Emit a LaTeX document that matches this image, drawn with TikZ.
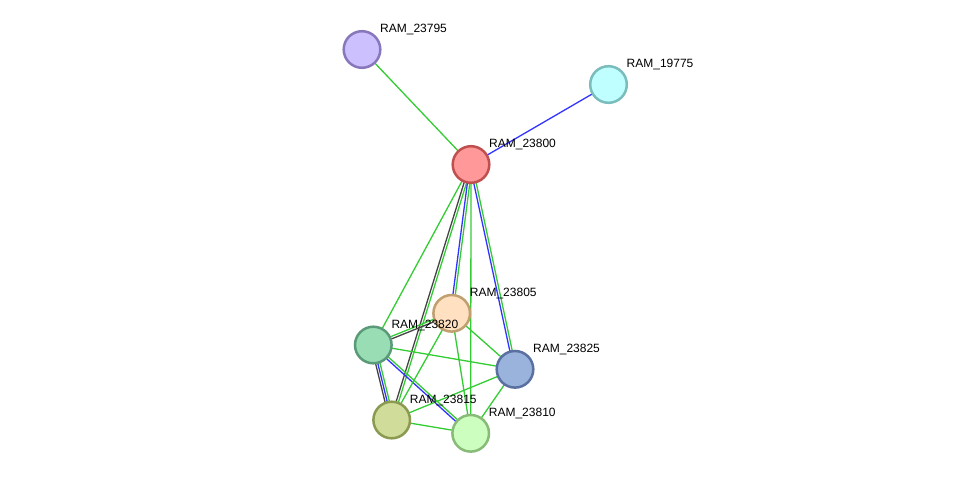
\documentclass[tikz,border=0pt]{standalone}
\usepackage{fontspec}
\setmainfont{Liberation Sans}
\usetikzlibrary{calc,backgrounds}
\definecolor{eg}{HTML}{33CC33}
\definecolor{eb}{HTML}{3333FF}
\definecolor{ek}{HTML}{444444}
\tikzset{
  prot/.style={circle, minimum size=36.6pt, inner sep=0pt, line width=2.5pt},
  lab/.style={anchor=west, font=\fontsize{12}{14}\selectfont, inner sep=0pt},
  edge/.style={line width=1.3pt},
}
\newcommand{\pline}[4]{% color, offset, a, b
  \draw[edge,#1] ($(#3)!#2!90:(#4)$) -- ($(#4)!#2!-90:(#3)$);}
\begin{document}
\begin{tikzpicture}[x=1pt,y=-1pt]
\useasboundingbox (0,0) rectangle (975,479);
\node[prot, fill={rgb,255:red,204;green,192;blue,255}, draw={rgb,255:red,136;green,119;blue,187}] (n23795) at (362,49.5) {};
\node[prot, fill={rgb,255:red,192;green,255;blue,255}, draw={rgb,255:red,123;green,188;blue,188}] (n19775) at (608.5,84.5) {};
\node[prot, fill={rgb,255:red,255;green,153;blue,153}, draw={rgb,255:red,192;green,80;blue,80}] (n23800) at (471,164.5) {};
\node[prot, fill={rgb,255:red,255;green,224;blue,192}, draw={rgb,255:red,192;green,160;blue,112}] (n23805) at (451.7,313.3) {};
\node[prot, fill={rgb,255:red,153;green,221;blue,180}, draw={rgb,255:red,90;green,154;blue,120}] (n23820) at (373.3,345) {};
\node[prot, fill={rgb,255:red,153;green,179;blue,221}, draw={rgb,255:red,90;green,112;blue,160}] (n23825) at (515,369.3) {};
\node[prot, fill={rgb,255:red,208;green,220;blue,153}, draw={rgb,255:red,138;green,154;blue,80}] (n23815) at (391.7,420) {};
\node[prot, fill={rgb,255:red,204;green,255;blue,191}, draw={rgb,255:red,136;green,187;blue,119}] (n23810) at (470.7,433.3) {};
\foreach \n/\t in {n23795/RAM\_23795, n19775/RAM\_19775, n23800/RAM\_23800, n23805/RAM\_23805, n23820/RAM\_23820, n23825/RAM\_23825, n23815/RAM\_23815, n23810/RAM\_23810}
  \node[lab] (l\n) at ($(\n.center)+(18,-19.8)$) {\t};
\begin{scope}[on background layer]
\pline{eg}{0pt}{n23800}{n23795}
\pline{eb}{0pt}{n23800}{n19775}
\pline{eg}{0pt}{n23800}{n23820}
\pline{ek}{-1.2pt}{n23800}{n23815}
\pline{eg}{1.2pt}{n23800}{n23815}
\pline{eb}{-1.2pt}{n23800}{n23805}
\pline{eg}{1.2pt}{n23800}{n23805}
\pline{eg}{0pt}{n23800}{n23810}
\pline{eb}{-1.2pt}{n23800}{n23825}
\pline{eg}{1.2pt}{n23800}{n23825}
\pline{ek}{-1.2pt}{n23820}{n23805}
\pline{eg}{1.2pt}{n23820}{n23805}
\pline{eg}{0pt}{n23820}{n23825}
\pline{ek}{-2.2pt}{n23820}{n23815}
\pline{eb}{0pt}{n23820}{n23815}
\pline{eg}{2.2pt}{n23820}{n23815}
\pline{eb}{-1.2pt}{n23820}{n23810}
\pline{eg}{1.2pt}{n23820}{n23810}
\pline{eg}{0pt}{n23805}{n23825}
\pline{eg}{0pt}{n23805}{n23815}
\pline{eg}{0pt}{n23805}{n23810}
\pline{eg}{0pt}{n23825}{n23815}
\pline{eg}{0pt}{n23825}{n23810}
\pline{eg}{0pt}{n23815}{n23810}
\end{scope}
\end{tikzpicture}
\end{document}
